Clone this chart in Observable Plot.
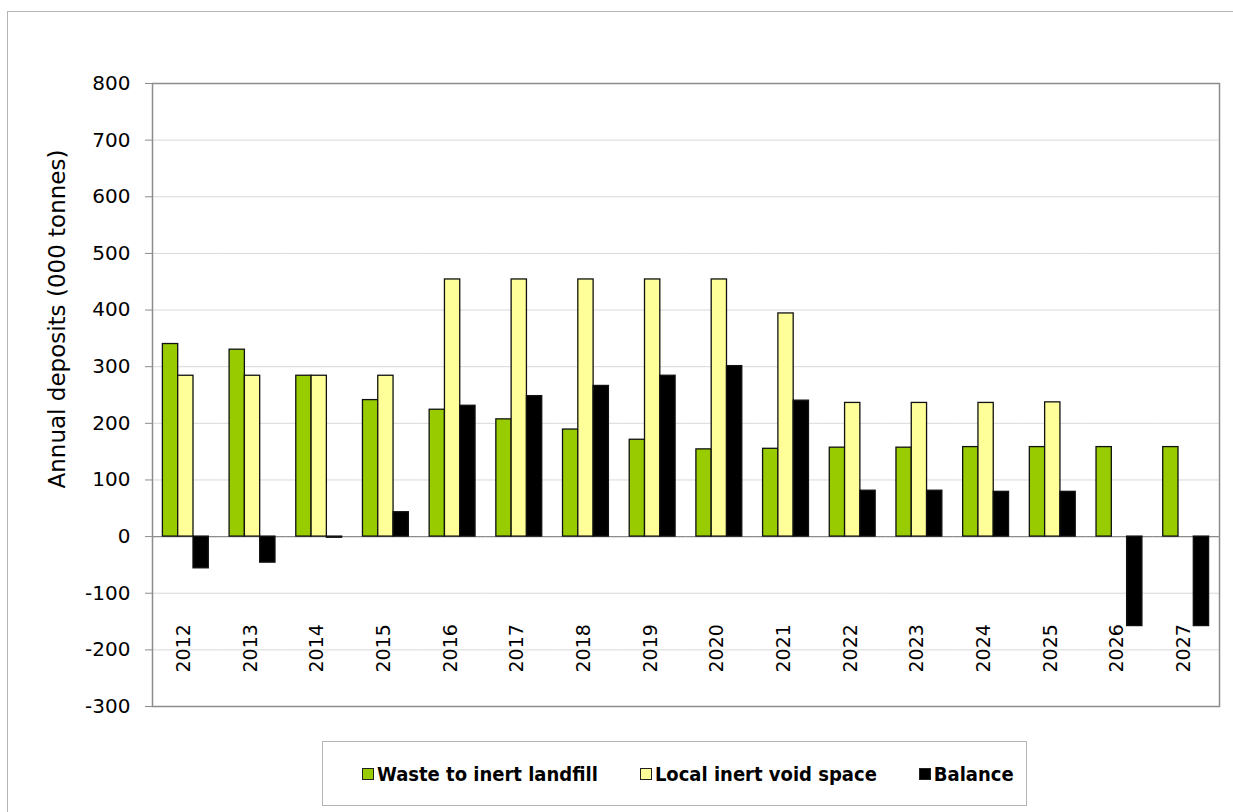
<!DOCTYPE html>
<html>
<head>
<meta charset="utf-8">
<script src="https://cdn.jsdelivr.net/npm/d3@7"></script>
<script src="https://cdn.jsdelivr.net/npm/@observablehq/plot@0.6"></script>
<style>
  html, body { margin: 0; padding: 0; background: #fff; width: 1233px; height: 812px; overflow: hidden; position: relative; font-family: "DejaVu Sans", sans-serif; }
  #outer { position: absolute; left: 7px; top: 11px; width: 1300px; height: 900px; border: 1px solid #b4b4b4; box-sizing: border-box; }
  #chart { position: absolute; left: 0; top: 0; }
  #ytitle { position: absolute; left: 57px; top: 319px; transform: translate(-50%, -50%) rotate(-90deg); white-space: nowrap; font-size: 23px; color: #000; }
  #legend { position: absolute; left: 322px; top: 741px; width: 705px; height: 65px; border: 1px solid #b4b4b4; box-sizing: border-box; display: flex; align-items: center; padding-left: 39px; gap: 42px; font-family: "DejaVu Sans Condensed", "DejaVu Sans", sans-serif; font-stretch: condensed; font-weight: bold; font-size: 20px; color: #000; white-space: nowrap; }
  .item { display: flex; align-items: center; gap: 3px; }
  .sw { width: 10px; height: 10px; border: 1px solid #222; display: inline-block; }
</style>
</head>
<body>
<div id="outer"></div>
<div id="chart"></div>
<div id="ytitle"></div>
<div id="legend"></div>
<script>
const years = [2012, 2013, 2014, 2015, 2016, 2017, 2018, 2019, 2020, 2021, 2022, 2023, 2024, 2025, 2026, 2027];
const seriesNames = ["Waste to inert landfill", "Local inert void space", "Balance"];
const seriesColors = ["#99cc00", "#ffff99", "#000000"];
const wasteToLandfill = [340, 330, 284, 241, 224, 207, 189, 171, 154, 155, 157, 157, 158, 158, 158, 158];
const localVoidSpace = [284, 284, 284, 284, 454, 454, 454, 454, 454, 394, 236, 236, 236, 237, 0, 0];
const balance = [-56, -46, -2, 43, 231, 248, 266, 284, 301, 240, 81, 81, 79, 79, -158, -158];
const yTicks = [-300, -200, -100, 0, 100, 200, 300, 400, 500, 600, 700, 800];
const yTitle = "Annual deposits (000 tonnes)";

const seriesValues = [wasteToLandfill, localVoidSpace, balance];
const rows = years.flatMap((yr, i) => seriesNames.map((s, k) => ({year: yr, series: s, value: seriesValues[k][i]})));

const chart = Plot.plot({
  width: 1233,
  height: 740,
  marginLeft: 152,
  marginRight: 14,
  marginTop: 83,
  marginBottom: 34,
  style: {fontFamily: "DejaVu Sans, sans-serif", background: "transparent", color: "#000"},
  fx: {domain: years, padding: 0, round: false, axis: null},
  x: {domain: seriesNames, paddingInner: 0, paddingOuter: 0.68, round: false, axis: null},
  y: {domain: [-300, 800], axis: null},
  color: {domain: seriesNames, range: seriesColors},
  marks: [
    Plot.ruleY(yTicks, {stroke: "#d9d9d9", strokeWidth: 1}),
    Plot.ruleY([0], {stroke: "#8c8c8c", strokeWidth: 1.2}),
    Plot.barY(rows.filter(d => d.value !== 0), {fx: "year", x: "series", y: "value", fill: "series", stroke: "#111", strokeWidth: 1.3}),
    Plot.text(years, {fx: d => d, text: d => String(d), frameAnchor: "bottom", dx: 4, dy: -34, rotate: -90, textAnchor: "start", fontSize: 19, fill: "#000"}),
    Plot.axisY({ticks: yTicks, tickFormat: d => String(d), tickSize: 7, tickPadding: 15, fontSize: 20, label: null, stroke: "#8c8c8c", fill: "#000"}),
    Plot.frame({facet: "super", stroke: "#8c8c8c", strokeWidth: 1.5})
  ]
});
document.getElementById("chart").appendChild(chart);
document.getElementById("ytitle").textContent = yTitle;

const legend = document.getElementById("legend");
seriesNames.forEach((name, k) => {
  const item = document.createElement("div");
  item.className = "item";
  const sw = document.createElement("span");
  sw.className = "sw";
  sw.style.background = seriesColors[k];
  const label = document.createElement("span");
  label.textContent = name;
  item.appendChild(sw);
  item.appendChild(label);
  legend.appendChild(item);
});
</script>
</body>
</html>
